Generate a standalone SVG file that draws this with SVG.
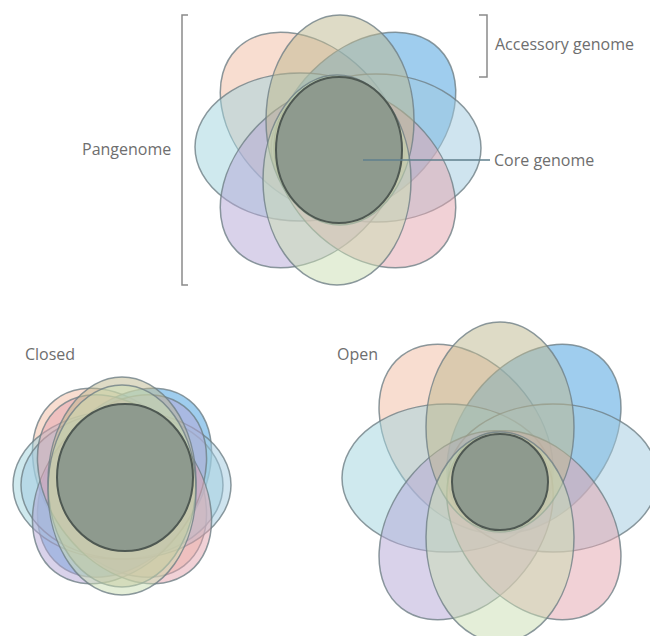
<svg xmlns="http://www.w3.org/2000/svg" xmlns:xlink="http://www.w3.org/1999/xlink" width="650" height="636" viewBox="0 0 650 636">
<style>
.p{stroke:#6f7f86;stroke-width:1.5;stroke-opacity:0.8}
.peach{fill:#f1bba1;fill-opacity:0.5}
.olive{fill:#bdb78d;fill-opacity:0.5}
.blue{fill:#50a4e0;fill-opacity:0.55}
.cyan{fill:#9fd3dd;fill-opacity:0.5}
.lblue{fill:#9fc9df;fill-opacity:0.5}
.purple{fill:#b3a5d5;fill-opacity:0.5}
.pink{fill:#e3a3ad;fill-opacity:0.5}
.green{fill:#c9ddb1;fill-opacity:0.5}
.core{fill:#8e9a8e;stroke:#4e5852;stroke-width:2}
.lbl{font-family:"Open Sans","Liberation Sans",sans-serif;font-size:16px;fill:#6e6e6e}
.br{fill:none;stroke:#8a8a8a;stroke-width:1.5}
</style>
<defs>
<ellipse id="petal" cx="0" cy="0" rx="105" ry="74"/>
</defs>
<g id="pangenome">
<use xlink:href="#petal" class="p peach" transform="translate(311.1,123.1) rotate(225)"/>
<use xlink:href="#petal" class="p blue" transform="translate(364.9,123.1) rotate(315)"/>
<use xlink:href="#petal" class="p cyan" transform="translate(300,147)"/>
<use xlink:href="#petal" class="p lblue" transform="translate(376,148)"/>
<use xlink:href="#petal" class="p purple" transform="translate(311.1,176.9) rotate(135)"/>
<use xlink:href="#petal" class="p pink" transform="translate(364.9,176.9) rotate(45)"/>
<use xlink:href="#petal" class="p olive" transform="translate(340,120) rotate(90)"/>
<use xlink:href="#petal" class="p green" transform="translate(337,180) rotate(90)"/>
<ellipse id="core-top" class="core" cx="339" cy="150" rx="63" ry="73"/>
</g>
<g id="closed">
<use xlink:href="#petal" class="p peach" transform="translate(119.5,482.8) rotate(232)"/>
<use xlink:href="#petal" class="p blue" transform="translate(124.5,482.8) rotate(308)"/>
<use xlink:href="#petal" class="p cyan" transform="translate(118,485)"/>
<use xlink:href="#petal" class="p lblue" transform="translate(126,485)"/>
<use xlink:href="#petal" class="p purple" transform="translate(119.5,489.2) rotate(128)"/>
<use xlink:href="#petal" class="p pink" transform="translate(124.5,489.2) rotate(52)"/>
<use xlink:href="#petal" class="p olive" transform="translate(122,482) rotate(90)"/>
<use xlink:href="#petal" class="p green" transform="translate(122,490) rotate(90)"/>
<ellipse id="core-closed" class="core" cx="125" cy="477.5" rx="68" ry="73.5"/>
</g>
<g id="open">
<use xlink:href="#petal" class="p peach" transform="translate(466.1,438.7) rotate(232)"/>
<use xlink:href="#petal" class="p blue" transform="translate(533.9,438.7) rotate(308)"/>
<use xlink:href="#petal" class="p cyan" transform="translate(447,478)"/>
<use xlink:href="#petal" class="p lblue" transform="translate(553,478)"/>
<use xlink:href="#petal" class="p purple" transform="translate(466.1,525.3) rotate(128)"/>
<use xlink:href="#petal" class="p pink" transform="translate(533.9,525.3) rotate(52)"/>
<use xlink:href="#petal" class="p olive" transform="translate(500,427) rotate(90)"/>
<use xlink:href="#petal" class="p green" transform="translate(500,537) rotate(90)"/>
<circle id="core-open" class="core" cx="500" cy="482" r="48"/>
</g>
<g id="connectors">
<path class="br" d="M188,15 H182 V285 H188"/>
<path class="br" d="M479,15 H487 V77 H479"/>
<line x1="363" y1="160" x2="490" y2="160" stroke="#5f7f8c" stroke-width="1.3"/>
</g>
<g id="labels">
<text class="lbl" x="82" y="155">Pangenome</text>
<text class="lbl" x="495" y="50">Accessory genome</text>
<text class="lbl" x="494" y="166">Core genome</text>
<text class="lbl" x="25" y="360">Closed</text>
<text class="lbl" x="337" y="360">Open</text>
</g>
</svg>
